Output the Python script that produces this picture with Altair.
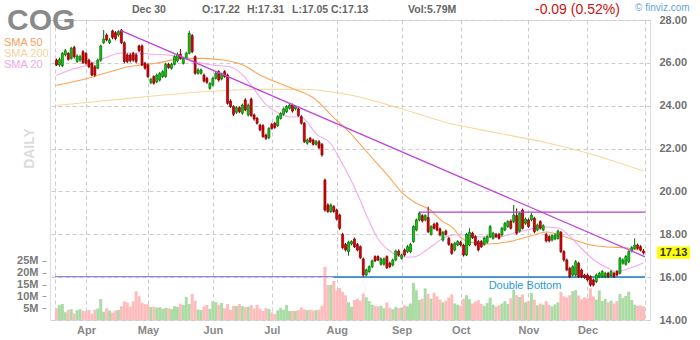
import altair as alt
import pandas as pd

FONT = "Liberation Sans"

# ---------------- data ----------------
opens = [26.13,25.90,25.87,26.38,26.44,26.21,26.72,26.06,26.13,26.52,
         26.44,26.13,25.98,25.82,25.75,26.13,26.94,27.30,26.94,27.49,
         27.41,27.30,27.53,26.94,26.37,26.37,26.44,26.37,26.79,26.79,
         25.98,25.90,25.08,25.36,25.12,25.20,25.36,25.36,25.93,25.75,
         25.93,26.09,26.40,25.98,26.21,26.45,27.27,26.29,25.51,25.51,
         25.43,25.28,24.81,24.97,25.28,25.59,25.25,25.59,25.43,24.22,
         23.96,23.69,23.91,23.65,24.27,23.57,24.31,23.57,23.41,23.10,
         23.07,22.63,22.51,23.13,23.18,23.07,23.41,23.60,23.72,23.88,
         24.03,23.85,23.85,23.49,23.18,22.25,22.48,22.40,22.20,22.32,
         22.20,20.53,19.37,19.06,19.29,19.13,18.90,18.00,17.53,17.19,
         17.55,17.78,17.53,17.42,16.85,16.10,16.26,16.49,16.96,16.96,
         16.60,16.60,16.96,16.65,16.57,16.80,17.22,16.88,17.27,17.19,
         17.19,17.66,18.20,18.67,18.87,18.67,18.78,18.00,18.47,18.51,
         18.25,17.73,18.15,17.81,17.53,17.27,17.50,17.63,17.50,17.03,
         17.50,18.05,17.89,17.66,17.66,17.53,17.63,17.89,17.81,18.00,
         18.00,17.97,18.20,18.36,18.62,18.59,18.87,18.15,19.13,18.51,
         18.67,18.67,18.75,18.20,18.59,18.20,18.00,17.89,17.73,17.78,
         17.81,18.09,17.19,16.80,16.41,16.10,16.10,16.65,16.33,16.10,
         16.10,16.02,15.87,15.79,16.02,16.02,16.02,16.18,16.07,16.18,
         16.26,16.18,16.65,16.60,16.72,17.22,17.34,17.50,17.42,17.22]
closes = [25.90,26.16,26.44,26.57,26.16,26.68,26.29,26.32,26.29,26.01,
          25.98,25.82,25.43,25.43,26.13,26.79,27.11,27.07,27.07,27.19,
          27.14,27.46,26.94,26.06,26.06,26.10,26.13,26.06,26.57,25.90,
          25.75,25.36,25.23,25.05,25.43,25.51,25.59,25.93,25.78,25.93,
          26.29,26.40,26.21,26.21,26.45,27.38,26.52,25.51,25.67,25.67,
          25.15,25.09,25.04,25.28,25.51,25.20,25.47,25.36,24.11,23.96,
          23.60,23.91,23.72,24.03,23.80,24.03,23.54,23.38,23.18,22.87,
          22.56,22.48,22.94,22.94,22.98,23.49,23.64,23.85,23.96,24.03,
          23.75,23.96,23.54,23.18,22.32,22.40,22.32,22.20,22.32,22.04,
          21.70,19.13,19.06,19.37,19.06,18.71,18.28,17.38,17.27,17.63,
          17.66,17.42,17.27,16.91,16.10,16.34,16.49,16.76,16.76,16.80,
          16.85,16.85,16.44,16.49,16.80,17.22,17.03,17.03,17.03,17.42,
          17.53,18.36,18.67,18.98,18.62,18.87,18.12,18.36,18.28,18.20,
          17.97,18.09,18.00,17.53,17.11,17.58,17.66,17.50,17.03,18.00,
          18.09,17.84,17.50,17.27,17.42,17.81,17.89,18.36,18.05,17.89,
          17.81,18.28,18.51,18.59,18.28,18.90,18.05,18.98,18.28,18.71,
          18.36,18.90,18.12,18.43,18.28,18.40,17.69,17.69,17.94,17.97,
          18.15,17.19,16.80,16.34,16.02,16.49,16.72,16.02,16.02,15.98,
          15.87,15.63,15.63,16.10,16.18,16.26,16.18,16.02,16.26,16.02,
          16.10,16.88,16.80,16.96,17.19,17.38,17.50,17.34,17.27,17.13]
highs = [26.20,26.25,26.50,26.65,26.50,26.75,26.80,26.40,26.38,26.60,
         26.50,26.20,26.05,25.90,26.20,26.85,27.53,27.38,27.15,27.55,
         27.48,27.52,27.58,27.00,26.45,26.45,26.52,26.45,26.85,26.86,
         26.05,25.98,25.30,25.42,25.50,25.58,25.66,26.00,26.00,26.00,
         26.35,26.48,26.65,26.28,26.52,27.50,27.35,26.35,25.75,25.74,
         25.50,25.35,25.10,25.35,25.58,25.66,25.54,25.66,25.50,24.30,
         24.02,23.98,23.98,24.10,24.35,24.10,24.38,23.64,23.48,23.16,
         23.14,22.70,23.00,23.20,23.25,23.56,23.70,23.92,24.03,24.10,
         24.10,24.02,23.92,23.56,23.24,22.47,22.55,22.47,22.40,22.40,
         22.26,20.60,19.45,19.44,19.36,19.20,18.96,18.07,17.60,17.70,
         17.72,17.85,17.60,17.48,16.92,16.40,16.55,16.82,17.02,17.02,
         16.92,16.92,17.02,16.72,16.86,17.28,17.30,17.10,17.34,17.50,
         17.60,18.42,18.74,19.05,18.94,18.94,19.29,18.42,18.54,18.58,
         18.32,18.16,18.22,17.88,17.60,17.65,17.73,17.70,17.56,18.07,
         18.28,18.12,17.96,17.73,17.73,17.88,17.96,18.43,18.12,18.07,
         18.07,18.35,18.58,18.66,18.70,19.37,19.21,19.05,19.20,18.78,
         18.74,19.00,18.82,18.50,18.66,18.47,18.07,17.96,18.00,18.04,
         18.22,18.16,17.26,16.87,16.48,16.56,16.80,16.72,16.40,16.16,
         16.17,16.09,15.94,16.17,16.25,16.33,16.25,16.25,16.33,16.25,
         16.33,16.95,16.88,17.03,17.26,17.45,17.81,17.57,17.50,17.31]
lows = [25.85,25.82,25.80,26.30,26.10,26.15,26.20,26.00,26.05,25.95,
        25.92,25.75,25.38,25.35,25.70,26.05,26.88,27.00,26.88,27.10,
        27.05,27.22,26.88,25.98,25.98,26.02,26.05,25.98,26.50,25.85,
        25.68,25.30,25.00,24.98,25.05,25.12,25.30,25.30,25.72,25.68,
        25.88,26.02,26.15,25.92,26.15,26.40,26.45,25.45,25.45,25.45,
        25.08,25.02,24.75,24.90,25.22,25.12,25.18,25.30,24.05,23.90,
        23.52,23.62,23.65,23.58,23.74,23.50,23.48,23.30,23.12,22.80,
        22.50,22.40,22.44,22.88,22.92,23.00,23.35,23.54,23.66,23.82,
        23.68,23.78,23.48,23.12,22.26,22.18,22.26,22.14,22.14,21.98,
        21.62,19.05,19.00,19.00,19.00,18.64,18.20,17.30,17.20,17.00,
        17.48,17.36,17.20,16.85,16.02,16.04,16.20,16.42,16.70,16.74,
        16.54,16.54,16.38,16.42,16.50,16.74,16.96,16.82,16.96,17.12,
        17.12,17.60,18.14,18.60,18.55,18.60,18.05,17.94,18.22,18.14,
        17.90,17.66,17.94,17.46,17.04,17.20,17.44,17.43,16.96,16.98,
        17.44,17.78,17.44,17.20,17.36,17.46,17.56,17.82,17.75,17.83,
        17.75,17.90,18.14,18.30,18.22,18.52,17.98,18.08,18.22,18.44,
        18.30,18.60,18.05,18.14,18.22,18.14,17.62,17.62,17.66,17.72,
        17.75,17.12,16.72,16.28,15.95,16.04,16.04,15.96,15.95,15.92,
        15.80,15.56,15.56,15.72,15.95,15.96,15.95,15.95,16.00,15.95,
        16.04,16.12,16.58,16.54,16.66,17.16,17.28,17.28,17.20,17.05]
volumes = [5.0,6.3,6.8,3.3,4.3,4.6,2.8,4.2,4.6,3.9,
           3.8,4.2,2.7,4.4,4.9,8.9,3.5,5.0,4.0,3.2,
           4.0,4.2,5.8,7.9,7.4,5.6,7.9,12.2,10.1,7.3,
           6.7,6.6,5.5,5.6,5.2,5.4,4.8,5.1,5.0,4.6,
           5.9,5.6,6.9,6.4,9.8,6.8,11.0,8.1,4.4,4.2,
           5.8,6.4,4.7,7.9,7.6,6.5,7.2,4.9,6.8,4.3,
           6.0,5.9,6.8,5.9,5.4,5.6,6.3,4.9,6.4,4.8,
           3.8,5.0,4.6,3.2,2.5,4.1,5.1,4.3,6.4,3.8,
           3.9,3.8,4.2,5.3,4.5,4.2,4.4,4.0,4.2,4.4,
           6.0,22.5,14.8,14.9,16.5,12.6,13.6,12.0,10.5,7.5,
           5.6,8.5,9.0,8.2,11.2,9.6,8.0,6.5,6.0,5.8,
           6.0,5.0,7.4,5.2,4.5,5.5,5.0,5.3,6.2,5.8,
           7.0,15.7,12.6,8.5,9.0,13.4,11.0,9.0,11.5,10.0,
           8.6,7.5,8.2,9.5,10.8,7.0,6.5,6.0,9.0,10.5,
           8.8,7.0,7.8,8.4,6.8,6.0,7.2,9.5,6.5,5.8,
           6.2,7.0,8.0,6.8,9.2,12.7,10.5,9.8,10.8,7.5,
           8.0,11.4,8.6,6.2,7.0,6.5,8.0,6.4,5.8,6.6,
           7.5,11.8,10.0,9.5,10.5,12.2,12.7,10.4,8.8,9.6,
           9.2,13.4,10.0,8.6,12.5,8.0,9.0,7.5,8.2,7.0,
           8.0,11.0,9.4,10.2,12.0,8.5,6.5,6.0,6.2,5.79]

sma20_i = [0, 4.5, 9.5, 16.2, 22.2, 27.8, 32.8, 37.8, 43.2, 47.8, 52.8, 58.8, 63.2,
           67.2, 71.2, 75.2, 79.5, 82.8, 88.5, 92.8, 96.2, 99.5, 102.2, 105.5, 108.8,
           113.5, 117.2, 121.2, 124.5, 127.8, 131.2, 134.5, 138.5, 143.8, 149.5, 155.2,
           159.5, 164.5, 170.2, 173.5, 177.8, 182.2, 186.8, 190.2, 194.5, 199]
sma20_p = [25.41, 25.67, 25.85, 26.23, 26.46, 26.46, 26.40, 26.37, 26.23, 26.04, 25.90,
           25.82, 25.43, 24.73, 24.03, 23.66, 23.47, 23.47, 22.63, 22.26, 21.47, 20.63,
           19.83, 18.76, 17.83, 17.17, 16.94, 16.94, 17.17, 17.50, 17.83, 17.97, 17.97,
           17.87, 17.87, 18.06, 18.20, 18.34, 18.29, 17.97, 17.36, 16.80, 16.43, 16.25,
           16.43, 16.66]
sma50_i = [0, 9.8, 24.5, 33.8, 43.2, 49.8, 56.5, 63.2, 68.8, 79.5, 87.2, 93.8, 99.5,
           103.8, 108.5, 112.8, 117.2, 121.8, 126.2, 131.2, 134.5, 137.2, 141.8, 146.2,
           152.8, 159.5, 166.2, 173.5, 181.2, 186.8, 193.5, 199]
sma50_p = [24.95, 25.25, 25.82, 25.98, 26.21, 26.21, 26.13, 25.90, 25.45, 24.83, 24.36,
           23.47, 22.73, 22.07, 21.33, 20.67, 19.93, 19.46, 19.18, 18.57, 18.29, 17.83,
           17.59, 17.55, 17.64, 17.87, 18.11, 17.83, 17.50, 17.41, 17.36, 17.22]
sma200_i = [0, 16.2, 32.8, 49.5, 66.2, 82.8, 99.5, 116.2, 132.8, 149.5, 166.2, 182.8, 199]
sma200_p = [24.01, 24.23, 24.45, 24.65, 24.76, 24.77, 24.50, 23.89, 23.19, 22.73, 22.27,
            21.68, 20.95]

trend_i = [21.7, 199.5]
trend_p = [27.52, 16.95]
resist_i = [122.8, 199.5]
resist_p = [19.03, 19.03]
support_i = [-0.5, 199.5]
support_p = [16.02, 16.02]
dbl_i = [94.0, 199.5]
dbl_p = [15.99, 15.99]

month_idx = [10, 31, 53, 73, 95, 117, 137, 160, 180]
month_lbl = ["Apr", "May", "Jun", "Jul", "Aug", "Sep", "Oct", "Nov", "Dec"]
edge_idx = [-0.5, 199.5]
price_ticks = [14, 16, 18, 20, 22, 24, 26, 28]
vol_ticks = [5, 10, 15, 20, 25]

# ---------------- frames ----------------
df = pd.DataFrame({"i": list(range(len(closes))), "o": opens, "h": highs,
                   "l": lows, "c": closes, "v": volumes})
df["dir"] = ["up" if c >= o else "down" for o, c in zip(opens, closes)]
df["bb"] = df[["o", "c"]].min(axis=1)
df["bt"] = df[["o", "c"]].max(axis=1)

def line_df(ii, pp):
    return pd.DataFrame({"i": ii, "p": pp})

# ---------------- scales / axes ----------------
GRID = "#cccccc"
label_expr = " : ".join(f"datum.value == {m} ? '{l}'" for m, l in zip(month_idx, month_lbl)) + " : ''"
X = alt.X("i:Q", scale=alt.Scale(domain=[-0.5, 199.5], nice=False, zero=False),
          axis=alt.Axis(values=month_idx + edge_idx, labelExpr=label_expr, grid=True,
                        gridColor=GRID, gridDash=[4, 3], ticks=False, domain=False,
                        labelFont=FONT, labelFontSize=11, labelFontWeight="bold",
                        labelColor="#888888", labelPadding=4, labelOverlap=False,
                        labelFlush=False, title=None))
pscale = alt.Scale(domain=[14, 28], nice=False, zero=False)
paxis = alt.Axis(orient="right", values=price_ticks, format=".2f", grid=True,
                 gridColor=GRID, gridDash=[4, 3], ticks=False, domain=False,
                 labelFont=FONT, labelFontSize=11, labelFontWeight="bold",
                 labelColor="#707070", labelPadding=9, title=None)

def PY(field):
    return alt.Y(field, scale=pscale, axis=paxis)

vol = alt.Chart(df).mark_bar(size=3).encode(
    x=X,
    y=alt.Y("v:Q", scale=alt.Scale(domain=[0, 127], nice=False),
            axis=alt.Axis(orient="left", values=vol_ticks, labelExpr="datum.value + 'M'",
                          grid=False, domain=False, ticks=True, tickSize=4,
                          tickColor="#9a9a9a", offset=4, labelPadding=4,
                          labelFont=FONT, labelFontSize=11, labelFontWeight="bold",
                          labelColor="#7a7a7a", title=None)),
    color=alt.Color("dir:N", scale=alt.Scale(domain=["up", "down"],
                                             range=["#abdca6", "#ffbcbc"]), legend=None),
)

def sma(ii, pp, color):
    return alt.Chart(line_df(ii, pp)).mark_line(color=color, strokeWidth=1.1,
                                                interpolate="monotone").encode(
        x=X, y=PY("p:Q"))

def seg(ii, pp, color, w=1.3):
    return alt.Chart(line_df(ii, pp)).mark_line(color=color, strokeWidth=w).encode(
        x=X, y=PY("p:Q"))

up = df[df.dir == "up"]
dn = df[df.dir == "down"]

wick_up = alt.Chart(up).mark_rule(color="#006a00", strokeWidth=1).encode(
    x=X, y=PY("l:Q"), y2="h:Q")
wick_dn = alt.Chart(dn).mark_rule(color="#7a0000", strokeWidth=1).encode(
    x=X, y=PY("l:Q"), y2="h:Q")
body_up = alt.Chart(up).mark_bar(size=2, color="#11cc11", stroke="#006a00",
                                 strokeWidth=0.7).encode(x=X, y=PY("bb:Q"), y2="bt:Q")
body_dn = alt.Chart(dn).mark_bar(size=2, color="#e00000", stroke="#7a0000",
                                 strokeWidth=0.7).encode(x=X, y=PY("bb:Q"), y2="bt:Q")

def txt(s, x, y, size=11, color="#666666", weight="bold", align="left", angle=None):
    kw = dict(fontSize=size, color=color, fontWeight=weight, align=align,
              baseline="middle", font=FONT)
    if angle is not None:
        kw["angle"] = angle
    return alt.Chart(pd.DataFrame({"t": [s]})).mark_text(**kw).encode(
        text="t:N", x=alt.value(x), y=alt.value(y))

price_box = alt.Chart(pd.DataFrame({"t": ["17.13"]})).mark_rect(color="#ffff00").encode(
    x=alt.value(607), x2=alt.value(640), y=alt.value(226.5), y2=alt.value(238.8))

texts = [
    alt.Chart(pd.DataFrame({"t": ["COG"]})).mark_text(
        fontSize=30, fontWeight="bold", color="#8a8a8a", align="left",
        baseline="alphabetic", font=FONT).encode(text="t:N", x=alt.value(-43), y=alt.value(10)),
    txt("Dec 30", 82, -10, size=10.5),
    txt("O:17.22", 152, -10, size=10.5),
    txt("H:17.31", 197, -10, size=10.5),
    txt("L:17.05", 242, -10, size=10.5),
    txt("C:17.13", 281, -10, size=10.5),
    txt("Vol:5.79M", 358, -10, size=10.5),
    txt("-0.09 (0.52%)", 485, -10, size=14, color="#cc1111", weight="normal"),
    txt("\u00a9 finviz.com", 585, -12.5, size=10, color="#5fa6e0", weight="normal"),
    txt("SMA 50", -46, 23, size=11, color="#f9a05c", weight="normal"),
    txt("SMA 200", -46, 34, size=11, color="#f3d49e", weight="normal"),
    txt("SMA 20", -46, 45, size=11, color="#f1a6e6", weight="normal"),
    txt("DAILY", -20, 128.5, size=14, color="#dcdcdc", align="center", angle=270),
    txt("Double Bottom", 475, 265.5, size=11, color="#2b9bd8", weight="normal", align="center"),
    price_box,
    txt("17.13", 623.5, 232.8, size=11, color="#333333", align="center"),
]

price = alt.layer(
    sma(sma200_i, sma200_p, "#f7d99c"),
    sma(sma50_i, sma50_p, "#ffa352"),
    sma(sma20_i, sma20_p, "#f5a8ee"),
    seg(support_i, support_p, "#8e86d6", 1.2),
    seg(dbl_i, dbl_p, "#2b9bd8", 1.2),
    wick_up, wick_dn, body_up, body_dn,
    seg(trend_i, trend_p, "#bf45dc", 1.3),
    seg(resist_i, resist_p, "#b040d0", 1.3),
    *texts,
)

chart = alt.layer(vol, price).resolve_scale(y="independent").properties(
    width=600, height=300, autosize="none",
    padding={"left": 50, "top": 20, "right": 50, "bottom": 20},
).configure_view(strokeWidth=0).configure(font=FONT, background="white")

chart.save("out.html", embed_options={"renderer": "svg", "actions": False})
